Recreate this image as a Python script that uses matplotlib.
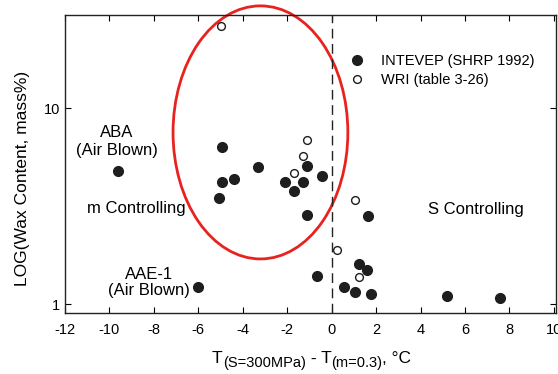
import matplotlib
matplotlib.use("Agg")
import matplotlib.pyplot as plt
from matplotlib.patches import Ellipse

plt.rcParams['font.family'] = ['Liberation Sans', 'DejaVu Sans']

# INTEVEP (SHRP 1992) - filled
intevep_x = [-9.6, -4.95, -4.95, -4.4, -5.05, -3.3, -2.1, -1.7, -1.3, -1.1, -0.45,
             -1.1, -0.65, -6.0, 1.65, 1.25, 1.6, 0.55, 1.05, 1.75, 5.2, 7.6]
intevep_y = [4.8, 6.35, 4.2, 4.35, 3.5, 5.0, 4.2, 3.8, 4.2, 5.05, 4.5,
             2.85, 1.39, 1.22, 2.83, 1.6, 1.5, 1.22, 1.15, 1.12, 1.1, 1.08]
# WRI (table 3-26) - open
wri_x = [-5.0, -1.7, -1.3, -1.1, 1.05, 0.25, 1.25]
wri_y = [26.4, 4.7, 5.7, 6.9, 3.4, 1.9, 1.38]

x_ticks = [-12, -10, -8, -6, -4, -2, 0, 2, 4, 6, 8, 10]
y_ticks = [1, 10]

fig = plt.figure(figsize=(5.58, 3.74), dpi=100)
ax = fig.add_axes([0.1165, 0.163, 0.88, 0.797])

ax.plot(intevep_x, intevep_y, 'o', color='#1e1e1e', markersize=7, linestyle='none',
        label='INTEVEP (SHRP 1992)')
ax.plot(wri_x, wri_y, 'o', markerfacecolor='white', markeredgecolor='#1e1e1e',
        markeredgewidth=1.0, markersize=5.6, linestyle='none', label='WRI (table 3-26)')

ax.axvline(0, color='#222222', linewidth=1.0, linestyle=(0, (7, 4)))

ax.set_yscale('log')
ax.set_xlim(-12, 10.1)
ax.set_ylim(0.9, 30)
ax.set_xticks(x_ticks)
ax.set_xticklabels([str(t) for t in x_ticks])
ax.set_yticks(y_ticks)
ax.set_yticklabels(['1', '10'])
ax.yaxis.set_minor_locator(matplotlib.ticker.NullLocator())
ax.tick_params(direction='in', top=True, right=True, labelsize=10.5, length=4, width=0.8)
ax.tick_params(axis='x', pad=7)
for s in ax.spines.values():
    s.set_linewidth(1.0)
    s.set_color('#222222')

ax.set_ylabel('LOG(Wax Content, mass%)', fontsize=12.5)
ax.yaxis.set_label_coords(-0.072, 0.453)

# x label composed of chained pieces (main text + larger-than-mathtext subscripts)
yb = 1 - 363 / 374
t1 = fig.text(212 / 558, yb, 'T', fontsize=12.5, va='baseline', ha='left')
t2 = ax.annotate('(S=300MPa)', xy=(1, 0), xycoords=t1, xytext=(0, -4),
                 textcoords='offset pixels', fontsize=10.5, va='bottom', ha='left',
                 annotation_clip=False)
t3 = ax.annotate(' - T', xy=(1, 0), xycoords=t2, xytext=(0, 4),
                 textcoords='offset pixels', fontsize=12.5, va='bottom', ha='left',
                 annotation_clip=False)
t4 = ax.annotate('(m=0.3)', xy=(1, 0), xycoords=t3, xytext=(0, -4),
                 textcoords='offset pixels', fontsize=10.5, va='bottom', ha='left',
                 annotation_clip=False)
t5 = ax.annotate(', °C', xy=(1, 0), xycoords=t4, xytext=(0, 4),
                 textcoords='offset pixels', fontsize=12.5, va='bottom', ha='left',
                 annotation_clip=False)

ax.text(0.106, 0.575, 'ABA\n(Air Blown)', transform=ax.transAxes, ha='center', va='center',
        fontsize=12, linespacing=1.2)
ax.text(0.171, 0.104, 'AAE-1\n(Air Blown)', transform=ax.transAxes, ha='center', va='center',
        fontsize=12, linespacing=1.08)
ax.text(0.044, 0.352, 'm Controlling', transform=ax.transAxes, ha='left', va='center', fontsize=12)
ax.text(0.739, 0.349, 'S Controlling', transform=ax.transAxes, ha='left', va='center', fontsize=12)

leg = ax.legend(loc='upper left', bbox_to_anchor=(0.579, 0.868), frameon=False, fontsize=10.5,
                handlelength=1.0, handletextpad=1.2, labelspacing=0.3, borderaxespad=0,
                borderpad=0)

ell = Ellipse((0.398, 0.606), 0.356, 0.849, transform=ax.transAxes, fill=False,
              edgecolor='#e8231f', linewidth=2.0, clip_on=False)
ax.add_patch(ell)

fig.savefig('out.png', dpi=100)
